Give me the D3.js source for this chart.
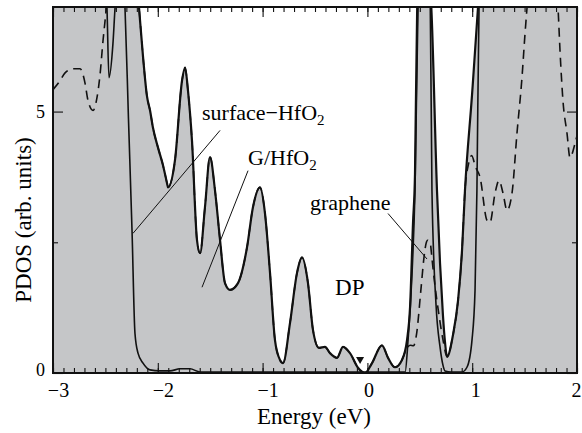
<!DOCTYPE html>
<meta charset="utf-8">
<style>
  body { margin: 0; background: #fff; }
  svg text { font-family: "Liberation Serif", "Times New Roman", serif; fill: #000; }
</style>
<script src="https://d3js.org/d3.v7.min.js"></script>
<body>
<svg id="chart" width="582" height="433"></svg>
<script>
// G/HfO2 total (grey fill), values above 7 run off the top
const energyG = [-3.00, -2.20, -2.179, -2.141, -2.103, -2.074, -2.046, -1.998, -1.950, -1.912, -1.903,
  -1.836, -1.769, -1.740, -1.712, -1.674, -1.626, -1.597, -1.550, -1.502, -1.454, -1.406, -1.359,
  -1.311, -1.235, -1.149, -1.092, -1.025, -0.977, -0.929, -0.882, -0.834, -0.805, -0.739, -0.672,
  -0.624, -0.567, -0.519, -0.462, -0.405, -0.357, -0.290, -0.233, -0.166, -0.090, -0.023, 0.044,
  0.139, 0.197, 0.263, 0.330, 0.378, 0.407, 0.435, 0.454, 0.475, 0.50, 0.58, 0.61, 0.664, 0.693,
  0.721, 0.740, 0.760, 0.817, 0.865, 0.903, 0.931, 0.998, 1.055, 1.08, 2.00];
const gHfO2 = [7.8, 7.5, 6.98, 6.05, 5.29, 5.02, 4.69, 4.31, 3.97, 3.63, 3.55,
  4.07, 5.59, 5.84, 5.40, 4.45, 2.54, 2.29, 3.17, 4.13, 3.49, 2.54, 1.72,
  1.59, 1.72, 2.40, 3.17, 3.55, 3.05, 1.91, 0.63, 0.25, 0.19, 0.95, 1.91,
  2.21, 1.72, 0.82, 0.48, 0.50, 0.38, 0.29, 0.50, 0.38, 0.10, 0.00, 0.19,
  0.53, 0.29, 0.11, 0.25, 0.63, 1.26, 2.86, 3.80, 6.98, 7.8, 7.8, 6.98, 3.49, 2.10,
  1.10, 0.60, 0.31, 0.73, 1.39, 2.35, 3.49, 5.31, 6.98, 7.8, 7.8];

// surface-HfO2 (thin solid)
const energyS = [-3.00, -2.50, -2.485, -2.466, -2.428, -2.408, -2.38, -2.33, -2.313, -2.28, -2.246,
  -2.218, -2.189, -2.141, -2.074, -1.979, -1.884, -1.788, -1.693, -1.597, -1.40, -1.0, -0.5, 0.0,
  0.30, 0.36, 0.388, 0.426, 0.454, 0.483, 0.50, 0.58, 0.60, 0.616, 0.655, 0.693, 0.721, 0.740,
  0.80, 0.903, 0.950, 0.998, 1.027, 1.045, 1.065, 1.09, 2.00];
const surfHfO2 = [7.8, 7.6, 6.98, 5.65, 6.30, 6.98, 7.6, 7.6, 6.98, 4.87, 2.73,
  0.76, 0.38, 0.19, 0.06, 0.04, 0.04, 0.08, 0.08, 0.02, 0.02, 0.02, 0.02, 0.02,
  0.02, 0.02, 0.63, 1.91, 3.49, 6.98, 7.8, 7.8, 6.98, 3.49, 1.30, 0.50, 0.15, 0.04,
  0.02, 0.02, 0.11, 0.63, 1.58, 3.49, 6.98, 7.8, 7.8];

// graphene (dashed)
const energyGr = [-3.00, -2.933, -2.885, -2.809, -2.742, -2.695, -2.666, -2.618, -2.580, -2.552,
  -2.523, -2.494, -2.46, -2.22, -2.179, -2.141, -2.103, -2.074, -2.046, -1.998, -1.950, -1.912,
  -1.903, -1.836, -1.769, -1.740, -1.712, -1.674, -1.626, -1.597, -1.550, -1.502, -1.454, -1.406,
  -1.359, -1.311, -1.235, -1.149, -1.092, -1.025, -0.977, -0.929, -0.882, -0.834, -0.805, -0.739,
  -0.672, -0.624, -0.567, -0.519, -0.462, -0.405, -0.357, -0.290, -0.233, -0.166, -0.090, -0.023,
  0.044, 0.139, 0.197, 0.263, 0.330, 0.37, 0.41, 0.44, 0.47, 0.51, 0.54, 0.56, 0.575, 0.60, 0.615,
  0.64, 0.68, 0.72, 0.76, 0.817, 0.865, 0.903, 0.931, 0.965, 0.995, 1.03, 1.075, 1.141, 1.170,
  1.218, 1.256, 1.294, 1.332, 1.380, 1.427, 1.475, 1.504, 1.523, 1.56, 1.78, 1.819, 1.838, 1.866,
  1.905, 1.933, 1.981, 2.00];
const graphene = [5.42, 5.59, 5.74, 5.82, 5.82, 5.55, 5.21, 5.02, 5.27, 5.69,
  6.35, 6.93, 7.8, 7.8, 6.98, 6.05, 5.29, 5.02, 4.69, 4.31, 3.97, 3.63,
  3.55, 4.07, 5.59, 5.84, 5.40, 4.45, 2.54, 2.29, 3.17, 4.13, 3.49, 2.54,
  1.72, 1.59, 1.72, 2.40, 3.17, 3.55, 3.05, 1.91, 0.63, 0.25, 0.19, 0.95,
  1.91, 2.21, 1.72, 0.82, 0.48, 0.50, 0.38, 0.29, 0.50, 0.38, 0.10, 0.00,
  0.19, 0.53, 0.29, 0.11, 0.25, 0.45, 0.53, 0.52, 0.76, 1.58, 2.21, 2.48, 2.54, 2.48, 2.21,
  1.75, 1.15, 0.65, 0.31, 0.73, 1.39, 2.35, 3.49, 4.00, 4.16, 3.95, 3.74, 2.92, 2.88,
  3.44, 3.68, 3.44, 3.11, 3.44, 4.58, 5.65, 6.49, 6.98, 7.8, 7.8, 6.98, 6.16, 5.21,
  4.58, 4.12, 4.39, 4.54];

const xMajor = [-3, -2, -1, 0, 1, 2];
const xMinor = d3.range(-30, 21).map(d => d / 10);
const yMajor = [0, 5];
const yMinor = [2.5];

// annotation labels: [text, sub, x, y], leader lines: [x1, y1, x2, y2] in data units
const labels = [
  ["surface\u2212HfO", "2", -1.578, 4.83],
  ["G/HfO", "2", -1.139, 3.97],
  ["graphene", "", -0.548, 3.11]
];
const leaders = [
  [-2.237, 2.67, -1.406, 4.64],
  [-1.139, 3.87, -1.578, 1.64],
  [0.197, 3.05, 0.569, 2.18]
];
const dpLabel = ["DP", -0.309, 1.49];
const dpMark = [-0.07, 0.17];

const svg = d3.select("#chart");
const L = 53, R = 577, T = 7, B = 373;
const x = d3.scaleLinear().domain([-3, 2]).range([L, R]);
const y = d3.scaleLinear().domain([0, 7]).range([B, T]);

svg.append("defs").append("clipPath").attr("id", "plot")
  .append("rect").attr("x", L).attr("y", T).attr("width", R - L).attr("height", B - T);

const g = svg.append("g").attr("clip-path", "url(#plot)");

const pts = (e, v) => e.map((d, i) => [d, v[i]]);

const area = d3.area().x(d => x(d[0])).y0(y(0)).y1(d => y(d[1])).curve(d3.curveMonotoneX);
const line = d3.line().x(d => x(d[0])).y(d => y(d[1])).curve(d3.curveMonotoneX);

g.append("path").attr("d", area(pts(energyG, gHfO2))).attr("fill", "#c5c6c8");
g.append("path").attr("d", line(pts(energyG, gHfO2)))
  .attr("fill", "none").attr("stroke", "#111").attr("stroke-width", 2.2);
g.append("path").attr("d", line(pts(energyS, surfHfO2)))
  .attr("fill", "none").attr("stroke", "#111").attr("stroke-width", 1.6);
g.append("path").attr("d", line(pts(energyGr, graphene)))
  .attr("fill", "none").attr("stroke", "#111").attr("stroke-width", 1.6)
  .attr("stroke-dasharray", "9,6");

// axes, ticks pointing in
function ticks(axis, vals, size, labelsOn) {
  axis.tickValues(vals).tickSize(-size);
  if (!labelsOn) axis.tickFormat("");
  return axis;
}
const bx = svg.append("g").attr("transform", `translate(0,${B})`);
bx.call(ticks(d3.axisBottom(x), xMinor, 5, false));
const bxm = svg.append("g").attr("transform", `translate(0,${B})`)
  .call(ticks(d3.axisBottom(x), xMajor, 10, true).tickPadding(10).tickFormat(d3.format("d")));
bxm.selectAll("text").style("font-size", "20px")
  .attr("dx", d => d < 0 ? 5 : (d === 0 ? 1 : (d === 2 ? -1 : 3)));
svg.append("g").attr("transform", `translate(0,${T})`).call(ticks(d3.axisTop(x), xMinor, 5, false));
svg.append("g").attr("transform", `translate(0,${T})`).call(ticks(d3.axisTop(x), xMajor, 10, false));

svg.append("g").attr("transform", `translate(${L},0)`).call(ticks(d3.axisLeft(y), yMinor, 5, false));
const ly = svg.append("g").attr("transform", `translate(${L},0)`)
  .call(ticks(d3.axisLeft(y), yMajor, 10, true).tickPadding(8).tickFormat(d3.format("d")));
ly.selectAll("text").style("font-size", "18px");
ly.selectAll(".tick").filter(d => d === 0).select("text").attr("dy", "0.15em");
svg.append("g").attr("transform", `translate(${R},0)`).call(ticks(d3.axisRight(y), yMinor, 5, false));
svg.append("g").attr("transform", `translate(${R},0)`).call(ticks(d3.axisRight(y), yMajor, 10, false));

svg.selectAll(".domain").remove();
svg.selectAll(".tick line").attr("stroke", "#111").attr("stroke-width", 1.1);
svg.selectAll(".tick text").attr("fill", "#000")
  .style("font-family", '"Liberation Serif", "Times New Roman", serif');

svg.append("rect").attr("x", L).attr("y", T).attr("width", R - L).attr("height", B - T)
  .attr("fill", "none").attr("stroke", "#111").attr("stroke-width", 2);

// axis titles
svg.append("text").attr("x", 314).attr("y", 424).attr("text-anchor", "middle")
  .style("font-size", "23px").text("Energy (eV)");
svg.append("text").attr("transform", "translate(31,220) rotate(-90)").attr("text-anchor", "middle")
  .style("font-size", "23px").text("PDOS (arb. units)");

// annotations
svg.selectAll(".leader").data(leaders).join("line").attr("class", "leader")
  .attr("x1", d => x(d[0])).attr("y1", d => y(d[1]))
  .attr("x2", d => x(d[2])).attr("y2", d => y(d[3]))
  .attr("stroke", "#111").attr("stroke-width", 1);

const lab = svg.selectAll(".lab").data(labels).join("text").attr("class", "lab")
  .attr("x", d => x(d[2])).attr("y", d => y(d[3])).style("font-size", "22px");
lab.append("tspan").text(d => d[0]);
lab.append("tspan").attr("dy", 5).style("font-size", "15px").text(d => d[1]);

svg.append("text").attr("x", x(dpLabel[1])).attr("y", y(dpLabel[2]))
  .style("font-size", "23px").text(dpLabel[0]);
const tx = x(dpMark[0]), ty = y(dpMark[1]);
svg.append("path").attr("d", `M${tx - 4},${ty - 7}L${tx + 4},${ty - 7}L${tx},${ty}Z`).attr("fill", "#111");
</script>
</body>
